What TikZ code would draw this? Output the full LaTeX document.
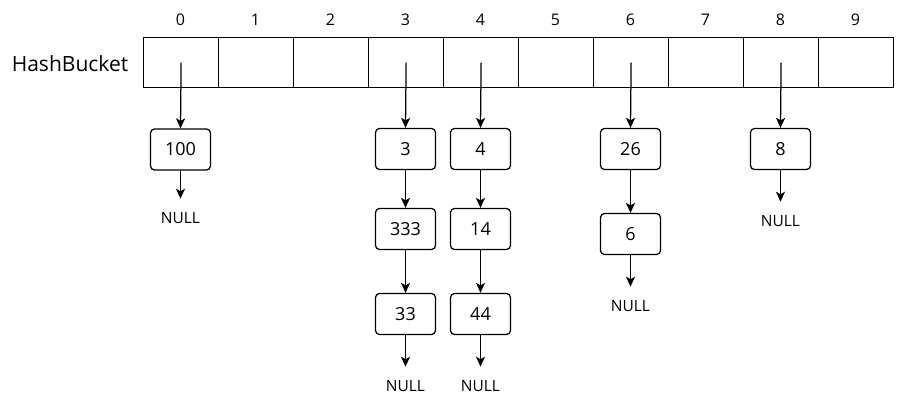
\documentclass[tikz,border=0pt]{standalone}
\usepackage{fontspec}
\setmainfont{Open Sans}
\usetikzlibrary{arrows.meta}
\tikzset{
  ln/.style={line width=1.25pt, draw=black},
  arr/.style={ln, -{Stealth[length=10pt,width=9pt,inset=2.5pt]}},
  item/.style={ln, rounded corners=4pt, minimum width=60pt, minimum height=41pt, inner sep=0pt, font=\fontsize{18}{21}\selectfont},
  nullt/.style={anchor=base, inner xsep=0pt, inner ysep=13pt, font=\fontsize{15.5}{18}\selectfont, text=black},
  idx/.style={font=\fontsize{16}{19}\selectfont, inner sep=0pt},
  cell/.style={ln, minimum width=75pt, minimum height=50pt, inner sep=0pt, anchor=north west},
}
\begin{document}
\begin{tikzpicture}[x=1pt,y=-1pt]
\useasboundingbox (0,0) rectangle (906,404);
% bucket label
\node[font=\fontsize{21}{25}\selectfont, inner sep=0pt] (hb) at (70,64) {HashBucket};
% cells and index labels
\foreach \i in {0,...,9} {
  \node[cell] (c\i) at ({143+75*\i},37) {};
  \node[idx] (i\i) at ({180.5+75*\i},19.5) {\i};
}
% chain nodes
\node[item] (b100) at (180.5,149.5) {100};
\node[item] (b3)   at (405.5,149) {3};
\node[item] (b333) at (405.5,229) {333};
\node[item] (b33)  at (405.5,314) {33};
\node[item] (b4)   at (480.5,149) {4};
\node[item] (b14)  at (480.5,229) {14};
\node[item] (b44)  at (480.5,314) {44};
\node[item] (b26)  at (630.5,149) {26};
\node[item] (b6)   at (630.5,234) {6};
\node[item] (b8)   at (780.5,149) {8};
% NULL labels
\node[nullt] (n0) at (180.5,223) {NULL};
\node[nullt] (n3) at (405.5,391) {NULL};
\node[nullt] (n4) at (480.5,391) {NULL};
\node[nullt] (n6) at (630.5,311) {NULL};
\node[nullt] (n8) at (780.5,226) {NULL};
% pointers from cells
\draw[arr] (c0.center) -- (b100.north);
\draw[arr] (c3.center) -- (b3.north);
\draw[arr] (c4.center) -- (b4.north);
\draw[arr] (c6.center) -- (b26.north);
\draw[arr] (c8.center) -- (b8.north);
% chain links
\draw[arr] (b100) -- (n0.north);
\draw[arr] (b3) -- (b333);
\draw[arr] (b333) -- (b33);
\draw[arr] (b33) -- (n3.north);
\draw[arr] (b4) -- (b14);
\draw[arr] (b14) -- (b44);
\draw[arr] (b44) -- (n4.north);
\draw[arr] (b26) -- (b6);
\draw[arr] (b6) -- (n6.north);
\draw[arr] (b8) -- (n8.north);
\end{tikzpicture}
\end{document}
